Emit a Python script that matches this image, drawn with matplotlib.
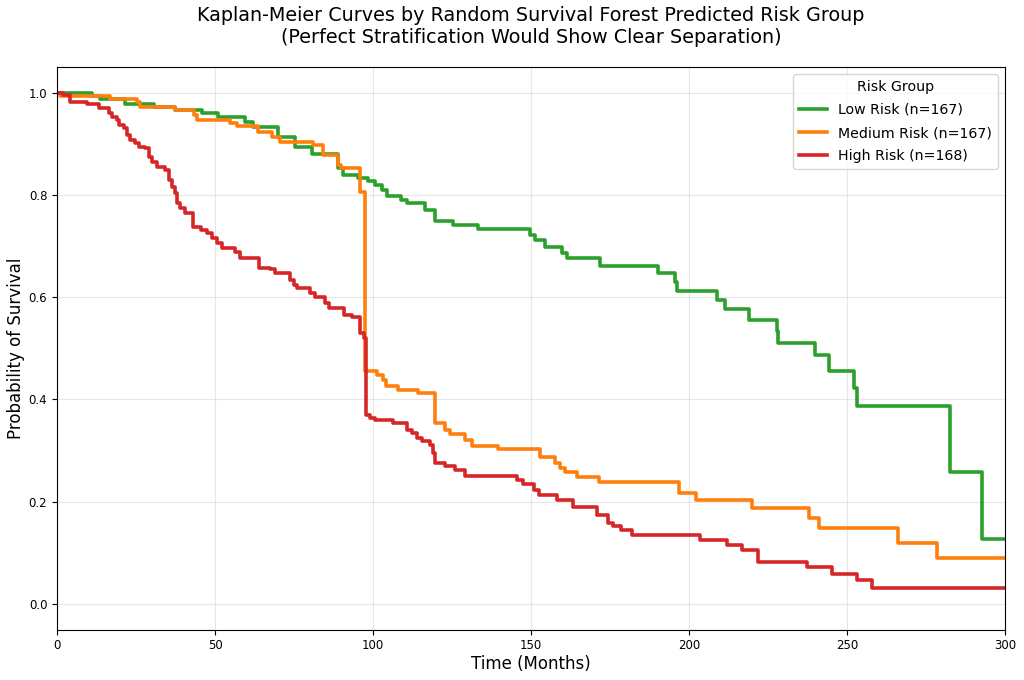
import numpy as np
import matplotlib
matplotlib.use("Agg")
import matplotlib.pyplot as plt

# Step points: time of each drop, survival after it
low_t = [0, 11, 13.6, 21.5, 30.7, 37.3, 46, 51, 59.5, 62, 70, 75.3, 80.6, 88.9,
         90.6, 95.3, 98.5, 100.6, 102.7, 104.3, 109, 110.7, 116.5, 119.6, 125.4,
         133.3, 149.7, 151.3, 154.4, 159.7, 161.3, 171.8, 190.3, 195.6, 196.3,
         208.8, 211.4, 219.1, 227.7, 228.0, 240.0, 244.3, 252.3, 253.0, 282.6,
         292.6, 300]
low_s = [1.0, 0.994, 0.987, 0.978, 0.971, 0.965, 0.960, 0.952, 0.942, 0.933,
         0.914, 0.894, 0.880, 0.853, 0.839, 0.833, 0.827, 0.820, 0.810, 0.798,
         0.790, 0.784, 0.771, 0.748, 0.741, 0.733, 0.722, 0.711, 0.699, 0.687,
         0.676, 0.661, 0.647, 0.629, 0.613, 0.595, 0.576, 0.556, 0.534, 0.510,
         0.486, 0.456, 0.422, 0.387, 0.258, 0.128, 0.128]

med_t = [0, 1, 16.9, 25.3, 26.3, 37.4, 43.2, 44.3, 54.7, 57, 63.7, 67.9, 70.6,
         81.1, 84.3, 89, 90, 95.9, 97.6, 101.1, 103.3, 104.1, 108, 114.3, 119.6,
         122.8, 124.4, 129.1, 131.2, 139.7, 152.8, 157.6, 159.2, 160.8, 164.4,
         171.5, 196.9, 202.1, 219.8, 238.1, 241.2, 266.2, 278.4, 300]
med_s = [1.0, 0.994, 0.988, 0.982, 0.972, 0.965, 0.956, 0.946, 0.941, 0.935,
         0.922, 0.914, 0.904, 0.898, 0.878, 0.859, 0.852, 0.806, 0.455, 0.448,
         0.439, 0.426, 0.419, 0.413, 0.354, 0.341, 0.333, 0.321, 0.310, 0.303,
         0.287, 0.276, 0.266, 0.258, 0.248, 0.238, 0.217, 0.203, 0.187, 0.169,
         0.148, 0.120, 0.090, 0.090]

high_t = [0, 2, 4.2, 9.5, 13.2, 16.3, 17.4, 19, 19.5, 21.1, 22.2, 23.2, 24.8,
          25.8, 27.9, 29, 30, 31.6, 34.3, 35.3, 36.4, 37.4, 38, 39, 40.6, 43,
          45.4, 47.5, 49, 50.6, 52.2, 56.4, 58, 64, 67.5, 69.1, 73.8, 74.9, 75.9,
          80.2, 81.7, 84.9, 86, 90.7, 93.4, 96, 97, 97.9, 99, 100.6, 106.4,
          110.7, 112.3, 113.9, 115.4, 118, 119.1, 119.6, 122.8, 125.9, 129.1,
          145.5, 147.6, 150.8, 152.4, 158.3, 163.4, 170.8, 174.2, 176, 178.4,
          181.9, 203.6, 212, 216.7, 221.9, 237.2, 245.1, 253.1, 257.8, 300]
high_s = [1.0, 0.995, 0.982, 0.977, 0.969, 0.960, 0.953, 0.946, 0.937, 0.930,
          0.917, 0.907, 0.901, 0.894, 0.891, 0.875, 0.865, 0.855, 0.849, 0.830,
          0.816, 0.803, 0.784, 0.774, 0.765, 0.738, 0.732, 0.725, 0.715, 0.706,
          0.696, 0.689, 0.676, 0.657, 0.655, 0.647, 0.634, 0.624, 0.618, 0.608,
          0.601, 0.588, 0.579, 0.566, 0.562, 0.530, 0.520, 0.370, 0.364, 0.359,
          0.354, 0.341, 0.335, 0.325, 0.318, 0.312, 0.296, 0.276, 0.269, 0.263,
          0.250, 0.243, 0.234, 0.224, 0.213, 0.204, 0.190, 0.175, 0.159, 0.153,
          0.145, 0.135, 0.125, 0.115, 0.105, 0.083, 0.072, 0.059, 0.048, 0.032,
          0.032]

groups = ["Low Risk (n=167)", "Medium Risk (n=167)", "High Risk (n=168)"]
colors = ["#2ca02c", "#ff7f0e", "#d62728"]

fig = plt.figure(figsize=(10.24, 6.8), dpi=100)
ax = fig.add_axes([0.0557, 0.074, 0.9258, 0.8275])

for (t, s), lab, c in zip([(low_t, low_s), (med_t, med_s), (high_t, high_s)],
                          groups, colors):
    ax.plot(t, s, drawstyle="steps-post", color=c, lw=2.6, label=lab)

ax.set_xlim(0, 300)
ax.set_ylim(-0.05, 1.05)
ax.set_xticks([0, 50, 100, 150, 200, 250, 300])
ax.set_yticks([0.0, 0.2, 0.4, 0.6, 0.8, 1.0])
ax.tick_params(labelsize=8.5)
ax.grid(True, alpha=0.3)
ax.set_xlabel("Time (Months)", fontsize=12, labelpad=2)
ax.set_ylabel("Probability of Survival", fontsize=12, labelpad=3)
ax.set_title("Kaplan-Meier Curves by Random Survival Forest Predicted Risk Group\n"
             "(Perfect Stratification Would Show Clear Separation)",
             fontsize=13.8, pad=17)
ax.legend(title="Risk Group", loc="upper right", fontsize=10.2,
          title_fontsize=10.2, labelspacing=0.65)

fig.savefig("out.png", dpi=100)
